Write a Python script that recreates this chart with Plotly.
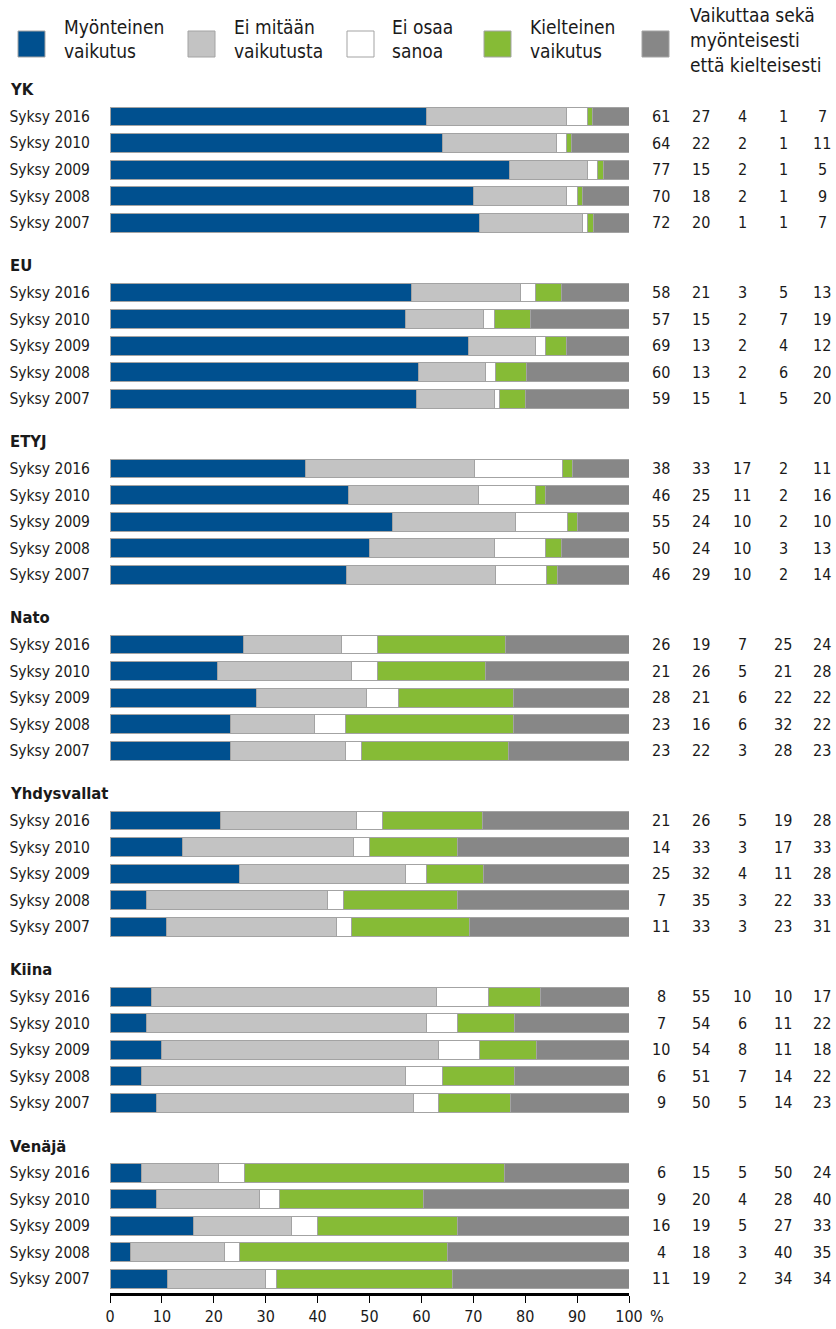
import plotly.graph_objects as go

# ---------------- data ----------------
groups = ["YK", "EU", "ETYJ", "Nato", "Yhdysvallat", "Kiina", "Venäjä"]
periods = ["Syksy 2016", "Syksy 2010", "Syksy 2009", "Syksy 2008", "Syksy 2007"]
series_names = ["Myönteinen vaikutus", "Ei mitään vaikutusta", "Ei osaa sanoa",
                "Kielteinen vaikutus", "Vaikuttaa sekä myönteisesti että kielteisesti"]
legend_lines = [["Myönteinen", "vaikutus"], ["Ei mitään", "vaikutusta"], ["Ei osaa", "sanoa"],
                ["Kielteinen", "vaikutus"], ["Vaikuttaa sekä", "myönteisesti", "että kielteisesti"]]

yk = [[61, 27, 4, 1, 7], [64, 22, 2, 1, 11], [77, 15, 2, 1, 5], [70, 18, 2, 1, 9], [72, 20, 1, 1, 7]]
eu = [[58, 21, 3, 5, 13], [57, 15, 2, 7, 19], [69, 13, 2, 4, 12], [60, 13, 2, 6, 20], [59, 15, 1, 5, 20]]
etyj = [[38, 33, 17, 2, 11], [46, 25, 11, 2, 16], [55, 24, 10, 2, 10], [50, 24, 10, 3, 13], [46, 29, 10, 2, 14]]
nato = [[26, 19, 7, 25, 24], [21, 26, 5, 21, 28], [28, 21, 6, 22, 22], [23, 16, 6, 32, 22], [23, 22, 3, 28, 23]]
yhdysvallat = [[21, 26, 5, 19, 28], [14, 33, 3, 17, 33], [25, 32, 4, 11, 28], [7, 35, 3, 22, 33], [11, 33, 3, 23, 31]]
kiina = [[8, 55, 10, 10, 17], [7, 54, 6, 11, 22], [10, 54, 8, 11, 18], [6, 51, 7, 14, 22], [9, 50, 5, 14, 23]]
venaja = [[6, 15, 5, 50, 24], [9, 20, 4, 28, 40], [16, 19, 5, 27, 33], [4, 18, 3, 40, 35], [11, 19, 2, 34, 34]]
group_data = [yk, eu, etyj, nato, yhdysvallat, kiina, venaja]

x_ticks = [0, 10, 20, 30, 40, 50, 60, 70, 80, 90, 100]

# ---------------- style ----------------
colors = ["#00508f", "#c3c3c3", "#ffffff", "#86bb36", "#878787"]
outline = "#a3a3a3"
FONT = "DejaVu Sans Condensed, Liberation Sans Narrow, sans-serif"
TXT = "#1a1a1a"
FS = 16

W, H = 836, 1329
L, R = 110, 629          # plot x pixels
T, B = 70, 1293          # plot y pixels
row_px = 26.59
head_px0 = 88
G = 6.62                 # group pitch in row units
HOFF = 1.07              # header -> first row

y_bottom = (B - head_px0) / row_px
y_top = (T - head_px0) / row_px


def px_x(p):
    return (p - L) / (R - L)


def px_y(p):
    return (B - p) / (B - T)


# positions
ys, ylabels = [], []
for g in range(len(groups)):
    for r in range(len(periods)):
        ys.append(g * G + HOFF + r)
        ylabels.append(periods[r])

fig = go.Figure()
for s in range(len(series_names)):
    xs = []
    for gd in group_data:
        for row in gd:
            xs.append(row[s] * 100.0 / sum(row))
    fig.add_trace(go.Bar(
        x=xs, y=ys, orientation="h", name=series_names[s],
        marker=dict(color=colors[s], line=dict(color=outline, width=1)),
        width=0.71, showlegend=False, hoverinfo="skip"))

annotations = []
# group headers
for g, name in enumerate(groups):
    annotations.append(dict(xref="paper", yref="y", x=px_x(8), y=g * G + 0.07,
                            text="<b>" + name + "</b>", showarrow=False,
                            xanchor="left", yanchor="middle",
                            font=dict(family=FONT, size=16.5, color=TXT)))
# value columns
col_px = [661, 701, 742, 783, 822]
for g, gd in enumerate(group_data):
    for r, row in enumerate(gd):
        for s, v in enumerate(row):
            annotations.append(dict(xref="paper", yref="y", x=px_x(col_px[s]),
                                    y=g * G + HOFF + r, text=str(v), showarrow=False,
                                    xanchor="center", yanchor="middle",
                                    font=dict(family=FONT, size=FS, color=TXT)))
# percent sign
annotations.append(dict(xref="paper", yref="paper", x=px_x(648), y=px_y(1316), text="%",
                        showarrow=False, xanchor="left", yanchor="middle",
                        font=dict(family=FONT, size=FS, color=TXT)))

# legend (custom)
shapes = []
sw_x = [18, 188, 347, 484, 642]
tx_x = [62, 232, 390, 528, 688]
for s in range(len(series_names)):
    shapes.append(dict(type="rect", xref="paper", yref="paper",
                       x0=px_x(sw_x[s]), x1=px_x(sw_x[s] + 27),
                       y0=px_y(57), y1=px_y(31),
                       fillcolor=colors[s], line=dict(color=outline, width=1)))
    lines = legend_lines[s]
    if len(lines) == 2:
        ly = [27, 51]
    else:
        ly = [15, 40, 65]
    for k, t in enumerate(lines):
        annotations.append(dict(xref="paper", yref="paper", x=px_x(tx_x[s]), y=px_y(ly[k]),
                                text=t, showarrow=False, xanchor="left", yanchor="middle",
                                font=dict(family=FONT, size=19, color=TXT)))

fig.update_layout(
    width=W, height=H,
    margin=dict(l=L, r=W - R, t=T, b=H - B, pad=0, autoexpand=False),
    paper_bgcolor="white", plot_bgcolor="white",
    barmode="stack", bargap=0,
    font=dict(family=FONT, size=FS, color=TXT),
    annotations=annotations, shapes=shapes,
    showlegend=False,
)
fig.update_xaxes(range=[0, 100], tickvals=x_ticks, ticktext=[str(t) for t in x_ticks],
                 showgrid=False, zeroline=False, showline=True, linecolor="black", linewidth=3,
                 ticks="outside", ticklen=7, tickwidth=1, tickcolor="black", automargin=False,
                 tickfont=dict(family=FONT, size=FS, color=TXT), fixedrange=True)
fig.update_yaxes(range=[y_bottom, y_top], tickvals=ys, ticktext=ylabels,
                 showgrid=False, zeroline=False, showline=False, ticks="",
                 ticklabelstandoff=19, automargin=False,
                 tickfont=dict(family=FONT, size=15.5, color=TXT), fixedrange=True)

fig.write_html("out.html", config={"displayModeBar": False, "staticPlot": True},
               post_script="document.body.style.margin='0';document.body.style.overflow='hidden';")
